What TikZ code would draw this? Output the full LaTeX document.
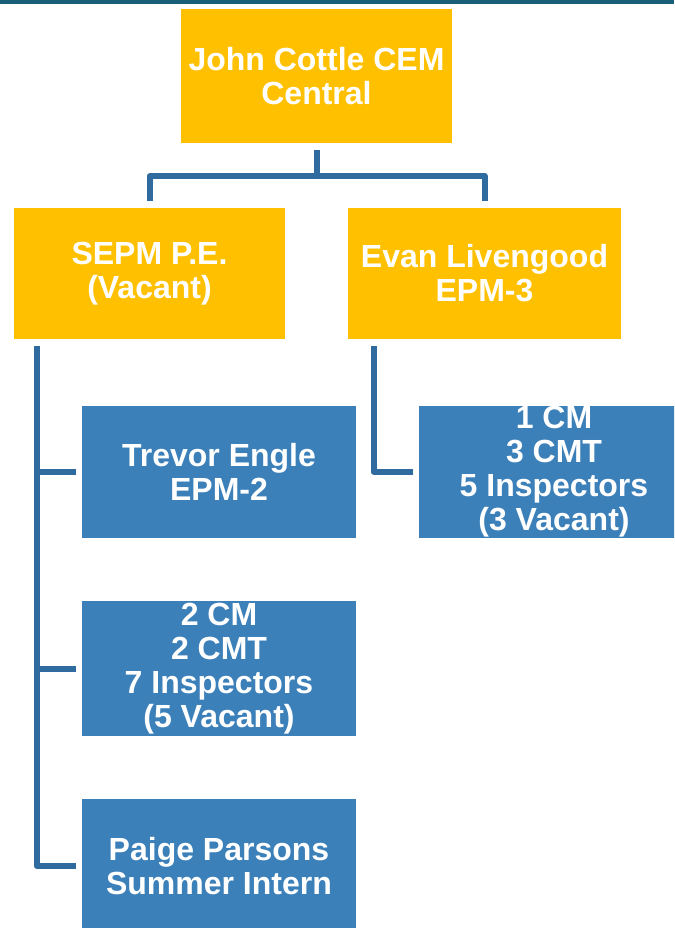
\documentclass[tikz,border=0pt]{standalone}
\usepackage{fontspec}
\setmainfont{Liberation Sans}
\definecolor{boxgold}{HTML}{FFC000}
\definecolor{boxblue}{HTML}{3C80BA}
\definecolor{linkblue}{HTML}{2F6B9E}
\definecolor{band}{HTML}{1A5F7A}
\begin{document}
\begin{tikzpicture}[x=1pt,y=-1pt,
  card/.style={rectangle, text=white, font=\fontsize{32}{34}\selectfont\bfseries, align=center, inner sep=0pt},
  gold/.style={card, fill=boxgold},
  bluebox/.style={card, fill=boxblue},
  conn/.style={draw=linkblue, line width=6pt, line join=round}]
\useasboundingbox (0,0) rectangle (674,928);
\clip (0,0) rectangle (674,928);
\fill[band] (0,0) rectangle (674,4);

\node[gold, minimum width=271pt, minimum height=134pt] (top) at (316.5,76) {John Cottle CEM\\Central};
\node[gold, minimum width=271pt, minimum height=131pt] (sepm) at (149.5,273.5) {SEPM P.E.\\(Vacant)};
\node[gold, minimum width=273pt, minimum height=131pt] (evan) at (484.5,273.5) {Evan Livengood\\EPM-3};

\node[bluebox, minimum width=274pt, minimum height=132pt] (trevor) at (219,472) {Trevor Engle\\EPM-2};
\node[bluebox, minimum width=274pt, minimum height=135pt] (crew2) at (219,668.5) {2 CM\\2 CMT\\7 Inspectors\\(5 Vacant)};
\node[bluebox, minimum width=274pt, minimum height=134pt] (paige) at (219,866) {Paige Parsons\\Summer Intern};
\node[bluebox, minimum width=270pt, minimum height=132pt] (crew1) at (554,472) {1 CM\\3 CMT\\5 Inspectors\\(3 Vacant)};

\coordinate (hub) at ([yshift=-33pt]top.south);
\draw[conn] ([yshift=-7pt]top.south) -- (hub);
\draw[conn] ([yshift=7pt]sepm.north) |- (hub) -| ([yshift=7pt]evan.north);

\coordinate (ls) at ([xshift=23pt,yshift=-7pt]sepm.south west);
\draw[conn] (ls) |- ([xshift=-6pt]paige.west);
\draw[conn] (ls |- trevor.west) -- ([xshift=-6pt]trevor.west);
\draw[conn] (ls |- crew2.west) -- ([xshift=-6pt]crew2.west);

\coordinate (rs) at ([xshift=26pt,yshift=-7pt]evan.south west);
\draw[conn] (rs) |- ([xshift=-6pt]crew1.west);
\end{tikzpicture}
\end{document}
